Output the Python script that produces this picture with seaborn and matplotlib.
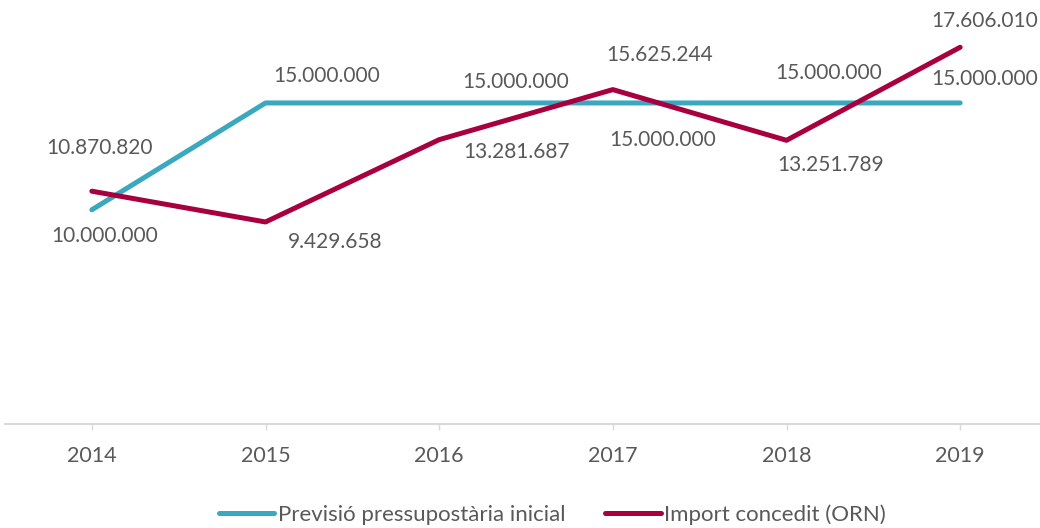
import matplotlib
matplotlib.use("Agg")
import matplotlib.pyplot as plt
import seaborn as sns
import pandas as pd

# data
years = [2014, 2015, 2016, 2017, 2018, 2019]
previsio = [10000000, 15000000, 15000000, 15000000, 15000000, 15000000]
import_orn = [10870820, 9429658, 13281687, 15625244, 13251789, 17606010]
series_names = ["Previsió pressupostària inicial", "Import concedit (ORN)"]

# label offsets in points (dx, dy) - layout only
off_prev = [(9.4, -18.7), (44, 19.4), (55.4, 15.1), (36, -26.6), (30.2, 21.6), (17.3, 17.3)]
off_orn = [(5.8, 31), (50.4, -14.4), (55.4, -8.6), (33.8, 25.2), (31.7, -18), (17.3, 18.7)]

sns.set_theme(style="white")
plt.rcParams["font.family"] = ["Lato", "DejaVu Sans"]
text_col = "#595959"
colors = ["#3AA8BE", "#A8003F"]

df = pd.DataFrame({
    "year": years * 2,
    "value": previsio + import_orn,
    "serie": [series_names[0]] * len(years) + [series_names[1]] * len(years),
})

fig = plt.figure(figsize=(10.4, 5.28), dpi=100)
ax = fig.add_axes([5 / 1040, 104.5 / 528, 1042 / 1040, 427.4 / 528])

sns.lineplot(data=df, x="year", y="value", hue="serie", palette=colors,
             linewidth=3.6, ax=ax, legend=False, sort=False,
             solid_capstyle="round")

ax.set_xlim(2013.5, 2019.5)
ax.set_ylim(0, 20000000)
ax.set_xticks(years)
ax.set_xticklabels([str(y) for y in years])
ax.set_yticks([])
ax.set_xlabel("")
ax.set_ylabel("")
for s in ["top", "left", "right"]:
    ax.spines[s].set_visible(False)
ax.spines["bottom"].set_color("#D9D9D9")
ax.spines["bottom"].set_linewidth(1.5)
ax.tick_params(axis="x", bottom=True, length=4, width=1, color="#D9D9D9",
               labelsize=15.5, labelcolor=text_col, pad=12)


def fmt(v):
    return f"{v:,}".replace(",", ".")


for vals, offs in [(previsio, off_prev), (import_orn, off_orn)]:
    for x, v, (dx, dy) in zip(years, vals, offs):
        ax.annotate(fmt(v), (x, v), xytext=(dx, dy), textcoords="offset points",
                    ha="center", va="center", fontsize=15, color=text_col,
                    annotation_clip=False)

handles = [plt.Line2D([], [], color=c, linewidth=3.6, solid_capstyle="round")
           for c in colors]
fig.legend(handles, series_names, loc="center", bbox_to_anchor=(0.531, 0.025),
           ncol=2, frameon=False, fontsize=16, labelcolor=text_col,
           handlelength=2.5, handletextpad=0.15, columnspacing=1.8)

fig.savefig("out.png", dpi=100)
